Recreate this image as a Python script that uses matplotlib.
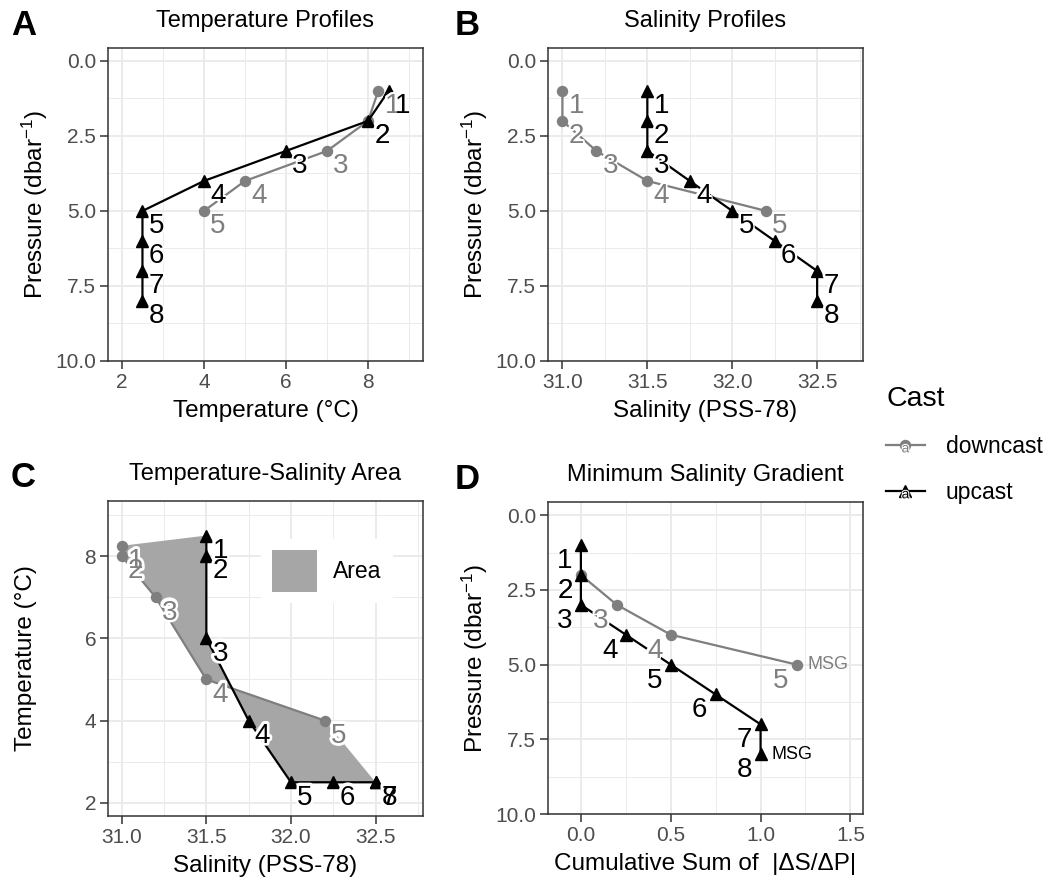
import matplotlib
matplotlib.use("Agg")
import numpy as np
import matplotlib.pyplot as plt
import matplotlib.patheffects as pe
from matplotlib.lines import Line2D
from matplotlib.text import Text
from matplotlib.legend_handler import HandlerBase
from matplotlib.ticker import FormatStrFormatter

plt.rcParams['font.family'] = ['Liberation Sans', 'DejaVu Sans']
plt.rcParams['mathtext.fontset'] = 'custom'
plt.rcParams['mathtext.rm'] = 'Liberation Sans'
plt.rcParams['mathtext.it'] = 'Liberation Sans:italic'
plt.rcParams['mathtext.default'] = 'regular'

# CTD cast data
down_pressure = [1, 2, 3, 4, 5]
down_temperature = [8.25, 8.0, 7.0, 5.0, 4.0]
down_salinity = [31.0, 31.0, 31.2, 31.5, 32.2]

up_pressure = [1, 2, 3, 4, 5, 6, 7, 8]
up_temperature = [8.5, 8.0, 6.0, 4.0, 2.5, 2.5, 2.5, 2.5]
up_salinity = [31.5, 31.5, 31.5, 31.75, 32.0, 32.25, 32.5, 32.5]

GREY = '#7f7f7f'
BLACK = 'black'
FILL = '#a6a6a6'
W, H = 1051, 886


def cum_gradient(sal, pres):
    g = np.abs(np.diff(sal) / np.diff(pres))
    return np.concatenate([[0.0], np.cumsum(g)])


def add_axes(left, top, right, bottom):
    return fig.add_axes([left / W, 1 - bottom / H, (right - left) / W, (bottom - top) / H])


def style(ax, xlim, ylim, xmaj, xmin, ymaj, ymin, xfmt, yfmt):
    ax.set_xlim(*xlim)
    ax.set_ylim(*ylim)
    ax.set_xticks(xmaj)
    ax.set_xticks(xmin, minor=True)
    ax.set_yticks(ymaj)
    ax.set_yticks(ymin, minor=True)
    ax.xaxis.set_major_formatter(FormatStrFormatter(xfmt))
    ax.yaxis.set_major_formatter(FormatStrFormatter(yfmt))
    ax.grid(which='major', color='#ebebeb', lw=1.4)
    ax.grid(which='minor', color='#ebebeb', lw=0.7)
    ax.set_axisbelow(True)
    ax.tick_params(which='major', length=5.5, width=1.1, color='#333333',
                   labelsize=15, labelcolor='#4d4d4d', pad=3)
    ax.tick_params(which='minor', length=0)
    for s in ax.spines.values():
        s.set_color('#333333')
        s.set_linewidth(1.1)


def draw_cast(ax, x, y, color, marker, ms):
    ax.plot(x, y, color=color, lw=1.6, marker=marker, ms=ms, zorder=3)


def number_labels(ax, x, y, color, offset, halo=3, start=1):
    # white shadow layer first, then the numbers on top
    for i, (xx, yy) in enumerate(zip(x, y), start=start):
        kw = dict(xytext=offset, textcoords='offset points', ha='center', va='center', fontsize=20)
        ax.annotate(str(i), (xx, yy), color='white', zorder=4,
                    path_effects=[pe.withStroke(linewidth=halo, foreground='white')], **kw)
        ax.annotate(str(i), (xx, yy), color=color, zorder=5, **kw)


def titles(ax, letter, title, xlabel, ylabel, lx, ly):
    ax.set_title(title, fontsize=17, pad=15)
    ax.set_xlabel(xlabel, fontsize=17.5)
    ax.set_ylabel(ylabel, fontsize=17.5)
    ax.xaxis.set_label_coords(0.5, -0.125)
    ax.yaxis.set_label_coords(-0.183, 0.5)
    fig.text(lx / W, 1 - ly / H, letter, fontsize=25, fontweight='bold', ha='left', va='baseline')


class CastKey:
    def __init__(self, color, marker, ms):
        self.color, self.marker, self.ms = color, marker, ms


class CastKeyHandler(HandlerBase):
    # line + point + small text glyph, like a combined line/point/text key
    def create_artists(self, legend, key, xdescent, ydescent, width, height, fontsize, trans):
        xc = width / 2 - xdescent
        y = height / 2 - ydescent
        line = Line2D([-xdescent, width - xdescent], [y, y], color=key.color, lw=1.6, transform=trans)
        point = Line2D([xc], [y], ls='none', marker=key.marker, ms=key.ms, color=key.color, transform=trans)
        glyph = Text(xc, y - 2.5, 'a', color=key.color, fontsize=10, ha='center', va='center',
                     transform=trans, path_effects=[pe.withStroke(linewidth=1.5, foreground='white')])
        return [line, point, glyph]


fig = plt.figure(figsize=(W / 100, H / 100), dpi=100)

p_label = 'Pressure (dbar$^{-1}$)'
p_major = [0, 2.5, 5, 7.5, 10]
p_minor = [1.25, 3.75, 6.25, 8.75]
s_major = [31.0, 31.5, 32.0, 32.5]
s_minor = [31.25, 31.75, 32.25, 32.75]
OFF = (10, -11)

# A: temperature profiles
axA = add_axes(108, 48, 423, 361)
style(axA, (1.66, 9.34), (10, -0.43), [2, 4, 6, 8], [3, 5, 7, 9], p_major, p_minor, '%d', '%.1f')
draw_cast(axA, down_temperature, down_pressure, GREY, 'o', 7.2)
draw_cast(axA, up_temperature, up_pressure, BLACK, '^', 8.5)
number_labels(axA, down_temperature, down_pressure, GREY, OFF)
number_labels(axA, up_temperature, up_pressure, BLACK, OFF)
titles(axA, 'A', 'Temperature Profiles', 'Temperature (°C)', p_label, 11, 35)

# B: salinity profiles
axB = add_axes(548, 48, 863, 361)
style(axB, (30.915, 32.77), (10, -0.43), s_major, s_minor, p_major, p_minor, '%.1f', '%.1f')
draw_cast(axB, down_salinity, down_pressure, GREY, 'o', 7.2)
draw_cast(axB, up_salinity, up_pressure, BLACK, '^', 8.5)
number_labels(axB, down_salinity, down_pressure, GREY, OFF)
number_labels(axB, up_salinity, up_pressure, BLACK, OFF)
titles(axB, 'B', 'Salinity Profiles', 'Salinity (PSS-78)', p_label, 455, 35)

# C: T-S area between the two casts
axC = add_axes(108, 501, 423, 816)
style(axC, (30.919, 32.78), (1.68, 9.34), s_major, s_minor, [2, 4, 6, 8], [3, 5, 7, 9], '%.1f', '%d')
poly_x = list(down_salinity) + list(up_salinity[::-1])
poly_y = list(down_temperature) + list(up_temperature[::-1])
axC.fill(poly_x, poly_y, color=FILL, lw=0, zorder=2, label='Area')
draw_cast(axC, down_salinity, down_temperature, GREY, 'o', 7.2)
draw_cast(axC, up_salinity, up_temperature, BLACK, '^', 8.5)
number_labels(axC, down_salinity, down_temperature, GREY, OFF, halo=4)
number_labels(axC, up_salinity, up_temperature, BLACK, OFF, halo=4)
titles(axC, 'C', 'Temperature-Salinity Area', 'Salinity (PSS-78)', 'Temperature (°C)', 11, 487)
axC.yaxis.set_label_coords(-0.225, 0.5)
legC = axC.legend(loc='center', bbox_to_anchor=(0.695, 0.778), fontsize=16.5,
                  handlelength=1.95, handleheight=2.4, handletextpad=0.7,
                  frameon=True, facecolor='white', edgecolor='none', framealpha=1,
                  fancybox=False, borderpad=0.5)
legC.set_zorder(6)

# D: cumulative salinity gradient (downcast starts at its second level)
down_cum = cum_gradient(down_salinity, down_pressure)[1:]
up_cum = cum_gradient(up_salinity, up_pressure)
axD = add_axes(548, 502, 863, 814)
style(axD, (-0.183, 1.57), (10, -0.44), [0, 0.5, 1.0, 1.5], [0.25, 0.75, 1.25],
      p_major, p_minor, '%.1f', '%.1f')
draw_cast(axD, down_cum, down_pressure[1:], GREY, 'o', 7.2)
draw_cast(axD, up_cum, up_pressure, BLACK, '^', 8.5)
number_labels(axD, down_cum, down_pressure[1:], GREY, (-11.5, -11.5), start=2)
number_labels(axD, up_cum, up_pressure, BLACK, (-11.5, -11.5))
for cum, pres, c in [(down_cum, down_pressure, GREY), (up_cum, up_pressure, BLACK)]:
    axD.annotate('MSG', (cum[-1], pres[-1]), xytext=(8, 0), textcoords='offset points',
                 ha='left', va='center', fontsize=13, color=c, zorder=5)
titles(axD, 'D', 'Minimum Salinity Gradient', 'Cumulative Sum of  |ΔS/ΔP|', p_label, 455, 489)

# shared legend for the casts
fig.legend([CastKey(GREY, 'o', 7.2), CastKey(BLACK, '^', 8.5)], ['downcast', 'upcast'],
           handler_map={CastKey: CastKeyHandler()},
           title='Cast', loc='upper left', bbox_to_anchor=(886 / W, 1 - 386 / H),
           frameon=False, prop={'size': 16.5}, title_fontsize=20.5,
           handlelength=1.7, handletextpad=0.9, labelspacing=1.0,
           borderpad=0, borderaxespad=0, alignment='left')

fig.savefig('out.png', dpi=100)
